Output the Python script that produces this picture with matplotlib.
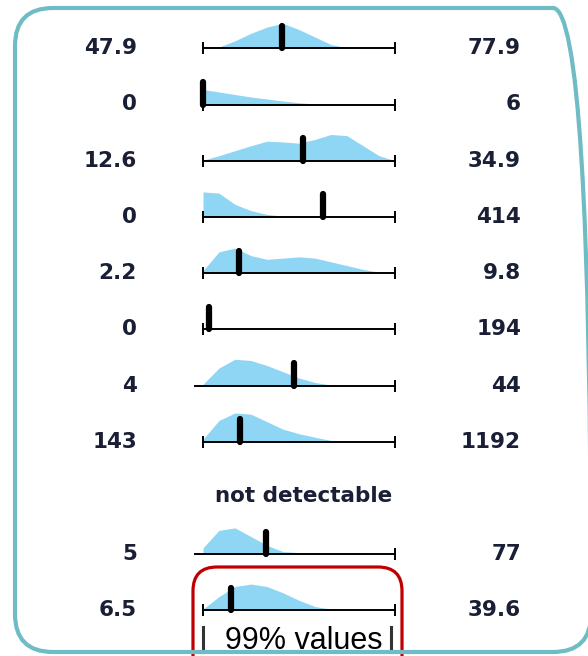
import numpy as np
import matplotlib
matplotlib.use('Agg')
import matplotlib.pyplot as plt
from matplotlib.patches import FancyBboxPatch

W, H = 588, 656

# one row per parameter, None = not detectable
lo_vals = [47.9, 0, 12.6, 0, 2.2, 0, 4, 143, None, 5, 6.5]
hi_vals = [77.9, 6, 34.9, 414, 9.8, 194, 44, 1192, None, 77, 39.6]
lo_labels = ['47.9', '0', '12.6', '0', '2.2', '0', '4', '143', None, '5', '6.5']
hi_labels = ['77.9', '6', '34.9', '414', '9.8', '194', '44', '1192', None, '77', '39.6']
marker_vals = [60.2, 0, 24.2, 259, 3.64, 6, 23.0, 345, None, 28.6, 11.4]
# rows whose line runs a bit past the minimum (no left end tick)
open_left = [False, False, False, False, False, False, True, False, None, True, False]

# relative density, 13 evenly spaced points from min to max
dens = [
    [0, 0.05, 0.3, 0.6, 0.85, 1.0, 0.75, 0.45, 0.15, 0.02, 0, 0, 0],
    [0.6, 0.5, 0.4, 0.3, 0.22, 0.14, 0.07, 0.02, 0, 0, 0, 0, 0],
    [0.02, 0.2, 0.4, 0.6, 0.78, 0.75, 0.7, 0.85, 1.05, 1.0, 0.6, 0.2, 0],
    [1.0, 0.95, 0.5, 0.25, 0.1, 0.03, 0, 0, 0, 0, 0, 0, 0],
    [0.1, 0.85, 1.0, 0.7, 0.55, 0.6, 0.65, 0.6, 0.45, 0.3, 0.15, 0.04, 0],
    [0.08, 0, 0, 0, 0, 0, 0, 0, 0, 0, 0, 0, 0],
    [0.05, 0.7, 1.05, 1.0, 0.8, 0.55, 0.3, 0.12, 0.02, 0, 0, 0, 0],
    [0.1, 0.85, 1.15, 1.1, 0.8, 0.5, 0.32, 0.18, 0.05, 0, 0, 0, 0],
    None,
    [0.25, 0.95, 1.05, 0.7, 0.35, 0.1, 0.06, 0.05, 0.05, 0.05, 0.05, 0.04, 0],
    [0.05, 0.55, 0.95, 1.05, 0.95, 0.7, 0.4, 0.15, 0.05, 0, 0, 0, 0],
]

txt_color = '#1a1f36'
fill_color = '#8fd6f4'
fs = 15.5

fig = plt.figure(figsize=(W / 100, H / 100), dpi=100)

# overlay in pixel units (y measured from the bottom) for frames and text
ov = fig.add_axes([0, 0, 1, 1])
ov.set_xlim(0, W)
ov.set_ylim(0, H)
ov.axis('off')

def py(y):
    return H - y

ov.add_patch(FancyBboxPatch((15, py(652)), 576, 644, boxstyle='round,pad=0,rounding_size=38',
                            fill=False, ec='#6fbcc4', lw=3, zorder=3, clip_on=False))
ov.add_patch(FancyBboxPatch((193, py(680)), 209, 113, boxstyle='round,pad=0,rounding_size=24',
                            fill=False, ec='#c00000', lw=2.3, zorder=2, clip_on=False))
ov.plot([203, 203], [py(627), py(652)], color='#333333', lw=2.2, zorder=2)
ov.plot([391, 391], [py(627), py(652)], color='#333333', lw=2.2, zorder=2)
ov.text(225, py(649), '99% values', fontsize=22, family=['Liberation Sans', 'DejaVu Sans'],
        color='black', va='baseline', ha='left', zorder=4)

base0, step = 48.3, 56.2
x0, x1 = 203, 395

for i in range(len(lo_vals)):
    base = base0 + step * i
    if lo_vals[i] is None:
        ov.text(304, py(base - 2), 'not detectable', fontsize=fs, fontweight='bold',
                color=txt_color, ha='center', va='center')
        continue
    lo, hi = lo_vals[i], hi_vals[i]
    ov.text(137, py(base), lo_labels[i], fontsize=fs, fontweight='bold', color=txt_color,
            ha='right', va='center')
    ov.text(521, py(base), hi_labels[i], fontsize=fs, fontweight='bold', color=txt_color,
            ha='right', va='center')

    ax = fig.add_axes([x0 / W, 1 - base / H, (x1 - x0) / W, 30 / H])
    ax.set_xlim(lo, hi)
    ax.set_ylim(0, 1.2)
    ax.axis('off')

    xs = np.linspace(lo, hi, len(dens[i]))
    ax.fill_between(xs, 0, dens[i], color=fill_color, lw=0, clip_on=False)

    start = lo - (hi - lo) * 8 / 192 if open_left[i] else lo
    ax.plot([start, hi], [0, 0], color='black', lw=1.4, clip_on=False)
    if not open_left[i]:
        ax.plot([lo], [0], marker='|', ms=9, mew=1.4, color='black', clip_on=False)
    ax.plot([hi], [0], marker='|', ms=9, mew=1.4, color='black', clip_on=False)

    m = marker_vals[i]
    ax.plot([m, m], [0, 0.9], color='black', lw=4.5, solid_capstyle='round', clip_on=False)

fig.savefig('out.png', dpi=100)
